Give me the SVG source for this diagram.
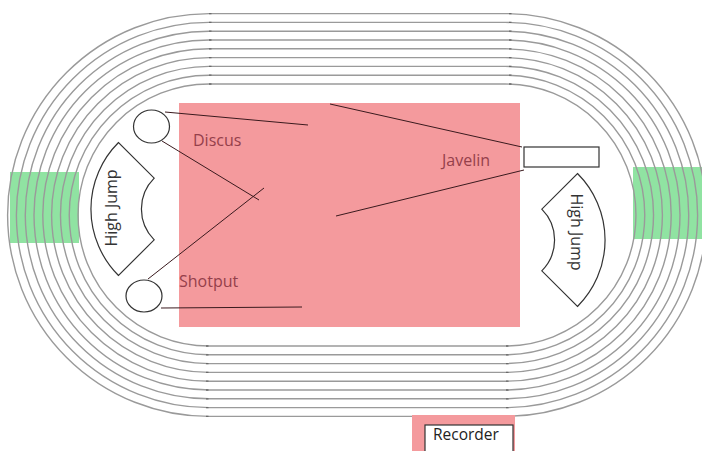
<svg xmlns="http://www.w3.org/2000/svg" width="702" height="451" viewBox="0 0 702 451">
  <style>
    .lane { fill: none; stroke: #9a9a9a; stroke-width: 1.4; }
    .tick { fill: none; stroke: #6a6a6a; stroke-width: 1.3; }
    .green { fill: #90e3a2; }
    .field { fill: #f49a9d; }
    .shape { fill: #fff; stroke: #333; stroke-width: 1.2; }
    .conn { fill: none; stroke: #3a1a1e; stroke-width: 1; }
    .lbl { font-family: "Open Sans", "Noto Sans", sans-serif; font-size: 16px; fill: #94404b; }
    .dark { font-family: "Open Sans", "Noto Sans", sans-serif; font-size: 16px; fill: #333; }
  </style>
  <rect width="702" height="451" fill="#fff"/>

  <g id="green-zones">
    <rect class="green" x="10" y="172" width="69" height="71"/>
    <rect class="green" x="633" y="167" width="69" height="72"/>
  </g>

  <g id="track">
    <path class="lane" d="M209,84 L505,84 A131,131 0 0 1 505,346 L209,346 A131,131 0 0 1 209,84 Z"/>
    <path class="lane" d="M209,75.2 L505,75.2 A139.8,139.8 0 0 1 505,354.8 L209,354.8 A139.8,139.8 0 0 1 209,75.2 Z"/>
    <path class="lane" d="M209,66.4 L505,66.4 A148.6,148.6 0 0 1 505,363.6 L209,363.6 A148.6,148.6 0 0 1 209,66.4 Z"/>
    <path class="lane" d="M209,57.6 L505,57.6 A157.4,157.4 0 0 1 505,372.4 L209,372.4 A157.4,157.4 0 0 1 209,57.6 Z"/>
    <path class="lane" d="M209,48.8 L505,48.8 A166.2,166.2 0 0 1 505,381.2 L209,381.2 A166.2,166.2 0 0 1 209,48.8 Z"/>
    <path class="lane" d="M209,40 L505,40 A175,175 0 0 1 505,390 L209,390 A175,175 0 0 1 209,40 Z"/>
    <path class="lane" d="M209,31.2 L505,31.2 A183.8,183.8 0 0 1 505,398.8 L209,398.8 A183.8,183.8 0 0 1 209,31.2 Z"/>
    <path class="lane" d="M209,22.4 L505,22.4 A192.6,192.6 0 0 1 505,407.6 L209,407.6 A192.6,192.6 0 0 1 209,22.4 Z"/>
    <path class="lane" d="M209,13.6 L505,13.6 A201.4,201.4 0 0 1 505,416.4 L209,416.4 A201.4,201.4 0 0 1 209,13.6 Z"/>
    <path class="tick" d="M209,84h2.5M209,75.2h2.5M209,66.4h2.5M209,57.6h2.5M209,48.8h2.5M209,40h2.5M209,31.2h2.5M209,22.4h2.5M209,13.6h2.5
      M509,84h2.5M509,75.2h2.5M509,66.4h2.5M509,57.6h2.5M509,48.8h2.5M509,40h2.5M509,31.2h2.5M509,22.4h2.5M509,13.6h2.5
      M206,346h2.5M206,354.8h2.5M206,363.6h2.5M206,372.4h2.5M206,381.2h2.5M206,390h2.5M206,398.8h2.5M206,407.6h2.5M206,416.4h2.5
      M506,346h2.5M506,354.8h2.5M506,363.6h2.5M506,372.4h2.5M506,381.2h2.5M506,390h2.5M506,398.8h2.5M506,407.6h2.5M506,416.4h2.5"/>
  </g>

  <g id="field">
    <rect class="field" x="179" y="103" width="341" height="224"/>
  </g>

  <g id="connectors">
    <line class="conn" x1="165" y1="112" x2="308" y2="125"/>
    <line class="conn" x1="162" y1="141" x2="259" y2="200"/>
    <line class="conn" x1="148" y1="279" x2="264" y2="188"/>
    <line class="conn" x1="161" y1="308" x2="302" y2="307"/>
    <line class="conn" x1="330" y1="104" x2="522" y2="147"/>
    <line class="conn" x1="336" y1="216" x2="524" y2="170"/>
  </g>

  <g id="discus">
    <ellipse class="shape" cx="151.5" cy="126.5" rx="18" ry="16.5"/>
    <text class="lbl" x="193" y="146">Discus</text>
  </g>

  <g id="shotput">
    <ellipse class="shape" cx="144" cy="296" rx="18" ry="16"/>
    <text class="lbl" x="179" y="287">Shotput</text>
  </g>

  <g id="javelin">
    <rect class="shape" x="524" y="147" width="75" height="20"/>
    <text class="lbl" x="442" y="166">Javelin</text>
  </g>

  <g id="high-jump-left">
    <path class="shape" d="M118.5,142.5 A94,94 0 0 0 118.5,275.5 L154.2,239.8 A43.5,43.5 0 0 1 154.2,178.2 Z"/>
    <text class="dark" text-anchor="middle" transform="translate(117,208) rotate(-90)">High Jump</text>
  </g>

  <g id="high-jump-right">
    <path class="shape" d="M577.5,173.5 A94,94 0 0 1 577.5,306.5 L541.8,270.8 A43.5,43.5 0 0 0 541.8,209.2 Z"/>
    <text class="dark" text-anchor="middle" transform="translate(571,232) rotate(90)">High Jump</text>
  </g>

  <g id="recorder">
    <rect class="field" x="412" y="415" width="103" height="40"/>
    <rect class="shape" x="425" y="425" width="88" height="32"/>
    <text class="dark" x="433" y="440" style="font-size:15.5px;fill:#222">Recorder</text>
  </g>
</svg>
